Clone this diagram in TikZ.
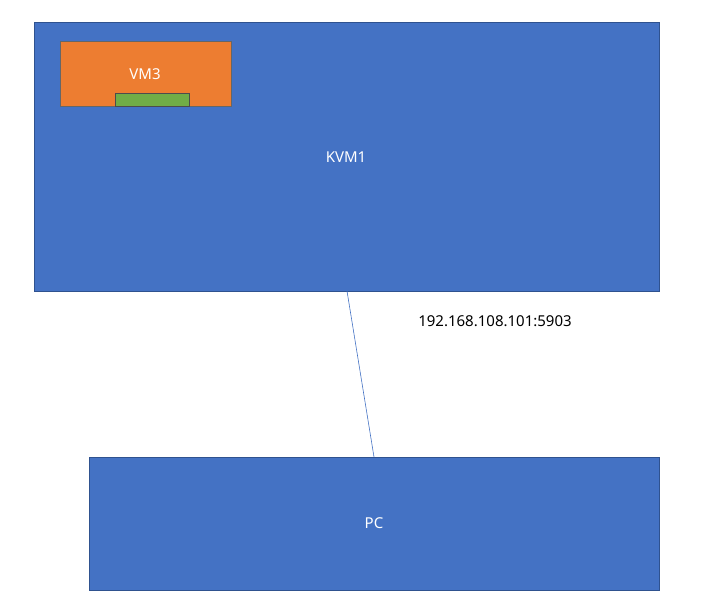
\documentclass[tikz,border=0pt]{standalone}
\usepackage{fontspec}
\setmainfont{Noto Sans}
\definecolor{bl}{HTML}{4472C4}
\definecolor{bd}{HTML}{2F528F}
\definecolor{og}{HTML}{ED7D31}
\definecolor{gr}{HTML}{70AD47}
\begin{document}
\begin{tikzpicture}[x=1pt,y=-1pt,
  box/.style={draw=bd,line width=0.6pt,inner sep=0,outer sep=0},
  lbl/.style={text=white,font=\fontsize{15}{18}\selectfont}]
\useasboundingbox (0,0) rectangle (710,607);
\fill[white] (0,0) rectangle (710,607);
\draw[box,fill=bl] (34,22) rectangle (659,291);
\node[lbl] (kvm) at (346,157) {KVM1};
\draw[box,fill=og,draw=black!60] (60,41) rectangle (231,106);
\node[lbl] (vm) at (145,74) {VM3};
\draw[box,fill=gr,draw=black!70] (115,93) rectangle (189,106);
\draw[box,fill=bl] (89,457) rectangle (659,590);
\node[lbl] (pc) at (374,523) {PC};
\coordinate (a) at (347,291);
\coordinate (b) at (374,457);
\draw[bl,line width=0.6pt] (a) -- (b);
\node[font=\fontsize{15}{18}\selectfont] (ip) at (495,321) {192.168.108.101:5903};
\end{tikzpicture}
\end{document}
